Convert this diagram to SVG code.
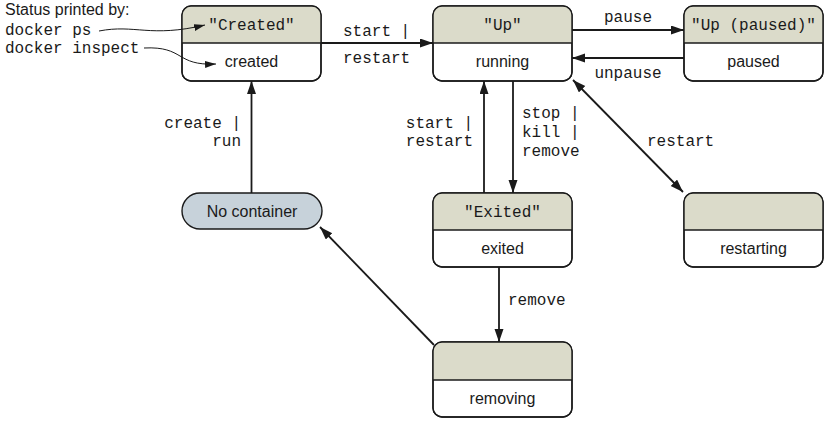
<svg xmlns="http://www.w3.org/2000/svg" width="832" height="421" viewBox="0 0 832 421">
<style>
.box{fill:#ffffff;stroke:#1a1a1a;stroke-width:1.4}
.hdr{fill:#dbdbca}
.div{stroke:#1a1a1a;stroke-width:1.4}
.pill{fill:#c7d2da;stroke:#1a1a1a;stroke-width:1.4}
.sans{font-family:"Liberation Sans",Arial,sans-serif;font-size:16px;fill:#1a1a1a}
.mono{font-family:"Liberation Mono","Courier New",monospace;font-size:16px;fill:#1a1a1a}
.mid{text-anchor:middle}
.end{text-anchor:end}
.conn{fill:none;stroke:#1a1a1a;stroke-width:1.8}
.thin{fill:none;stroke:#1a1a1a;stroke-width:1}
</style>
<defs>
<marker id="ah" markerUnits="userSpaceOnUse" markerWidth="14" markerHeight="10" refX="13" refY="4.5" orient="auto-start-reverse">
<path d="M0,0 L13,4.5 L0,9 z" fill="#1a1a1a"/>
</marker>
<marker id="ahs" markerUnits="userSpaceOnUse" markerWidth="12" markerHeight="8" refX="11" refY="3.5" orient="auto">
<path d="M0,0 L11,3.5 L0,7 z" fill="#1a1a1a"/>
</marker>
<clipPath id="c1"><rect x="182" y="6" width="139" height="75" rx="9"/></clipPath>
<clipPath id="c2"><rect x="433" y="6" width="139" height="75" rx="9"/></clipPath>
<clipPath id="c3"><rect x="684" y="6" width="139" height="75" rx="9"/></clipPath>
<clipPath id="c4"><rect x="433" y="193" width="139" height="74" rx="9"/></clipPath>
<clipPath id="c5"><rect x="684" y="193" width="139" height="74" rx="9"/></clipPath>
<clipPath id="c6"><rect x="433" y="342" width="139" height="75" rx="9"/></clipPath>
</defs>

<g id="connectors">
<line class="conn" x1="321" y1="43" x2="433" y2="43" marker-end="url(#ah)"/>
<text class="mono" x="343" y="36">start |</text>
<text class="mono" x="343" y="63">restart</text>
<line class="conn" x1="572" y1="30" x2="684" y2="30" marker-end="url(#ah)"/>
<text class="mono mid" x="628" y="22">pause</text>
<line class="conn" x1="684" y1="58" x2="572" y2="58" marker-end="url(#ah)"/>
<text class="mono mid" x="628" y="78">unpause</text>
<line class="conn" x1="251.5" y1="193" x2="251.5" y2="81" marker-end="url(#ah)"/>
<text class="mono end" x="241" y="128">create |</text>
<text class="mono end" x="241" y="146">run</text>
<line class="conn" x1="484" y1="193" x2="484" y2="81" marker-end="url(#ah)"/>
<text class="mono end" x="473" y="128">start |</text>
<text class="mono end" x="473" y="146">restart</text>
<line class="conn" x1="513" y1="81" x2="513" y2="193" marker-end="url(#ah)"/>
<text class="mono" x="522" y="118">stop |</text>
<text class="mono" x="522" y="137">kill |</text>
<text class="mono" x="522" y="156">remove</text>
<line class="conn" x1="573" y1="80" x2="683" y2="192" marker-start="url(#ah)" marker-end="url(#ah)"/>
<text class="mono" x="647" y="146">restart</text>
<line class="conn" x1="499" y1="267" x2="499" y2="342" marker-end="url(#ah)"/>
<text class="mono" x="508" y="305">remove</text>
<line class="conn" x1="434" y1="345" x2="320" y2="227" marker-end="url(#ah)"/>
</g>

<g id="created">
<rect class="box" x="182" y="6" width="139" height="75" rx="9"/>
<rect class="hdr" x="182" y="6" width="139" height="37" clip-path="url(#c1)"/>
<rect x="182" y="6" width="139" height="75" rx="9" fill="none" stroke="#1a1a1a" stroke-width="1.4"/>
<line class="div" x1="182" y1="43" x2="321" y2="43"/>
<text class="mono mid" x="251.5" y="30">"Created"</text>
<text class="sans mid" x="251.5" y="67">created</text>
</g>

<g id="running">
<rect class="box" x="433" y="6" width="139" height="75" rx="9"/>
<rect class="hdr" x="433" y="6" width="139" height="37" clip-path="url(#c2)"/>
<rect x="433" y="6" width="139" height="75" rx="9" fill="none" stroke="#1a1a1a" stroke-width="1.4"/>
<line class="div" x1="433" y1="43" x2="572" y2="43"/>
<text class="mono mid" x="502.5" y="30">"Up"</text>
<text class="sans mid" x="502.5" y="67">running</text>
</g>

<g id="paused">
<rect class="box" x="684" y="6" width="139" height="75" rx="9"/>
<rect class="hdr" x="684" y="6" width="139" height="37" clip-path="url(#c3)"/>
<rect x="684" y="6" width="139" height="75" rx="9" fill="none" stroke="#1a1a1a" stroke-width="1.4"/>
<line class="div" x1="684" y1="43" x2="823" y2="43"/>
<text class="mono mid" x="753.5" y="30">"Up (paused)"</text>
<text class="sans mid" x="753.5" y="67">paused</text>
</g>

<g id="nocontainer">
<rect class="pill" x="182" y="193" width="140" height="36" rx="18"/>
<text class="sans mid" x="252" y="217">No container</text>
</g>

<g id="exited">
<rect class="box" x="433" y="193" width="139" height="74" rx="9"/>
<rect class="hdr" x="433" y="193" width="139" height="37" clip-path="url(#c4)"/>
<rect x="433" y="193" width="139" height="74" rx="9" fill="none" stroke="#1a1a1a" stroke-width="1.4"/>
<line class="div" x1="433" y1="230" x2="572" y2="230"/>
<text class="mono mid" x="502.5" y="217">"Exited"</text>
<text class="sans mid" x="502.5" y="254">exited</text>
</g>

<g id="restarting">
<rect class="box" x="684" y="193" width="139" height="74" rx="9"/>
<rect class="hdr" x="684" y="193" width="139" height="37" clip-path="url(#c5)"/>
<rect x="684" y="193" width="139" height="74" rx="9" fill="none" stroke="#1a1a1a" stroke-width="1.4"/>
<line class="div" x1="684" y1="230" x2="823" y2="230"/>
<text class="sans mid" x="753.5" y="254">restarting</text>
</g>

<g id="removing">
<rect class="box" x="433" y="342" width="139" height="75" rx="9"/>
<rect class="hdr" x="433" y="342" width="139" height="38" clip-path="url(#c6)"/>
<rect x="433" y="342" width="139" height="75" rx="9" fill="none" stroke="#1a1a1a" stroke-width="1.4"/>
<line class="div" x1="433" y1="380" x2="572" y2="380"/>
<text class="sans mid" x="502.5" y="404">removing</text>
</g>

<g id="annotation">
<text class="sans" x="5" y="15">Status printed by:</text>
<text class="mono" x="5" y="35">docker ps</text>
<text class="mono" x="5" y="53">docker inspect</text>
<path class="thin" d="M99,31 C135,24 150,38 205,25" marker-end="url(#ahs)"/>
<path class="thin" d="M144,48 C185,46 175,66 216,64" marker-end="url(#ahs)"/>
</g>
</svg>
